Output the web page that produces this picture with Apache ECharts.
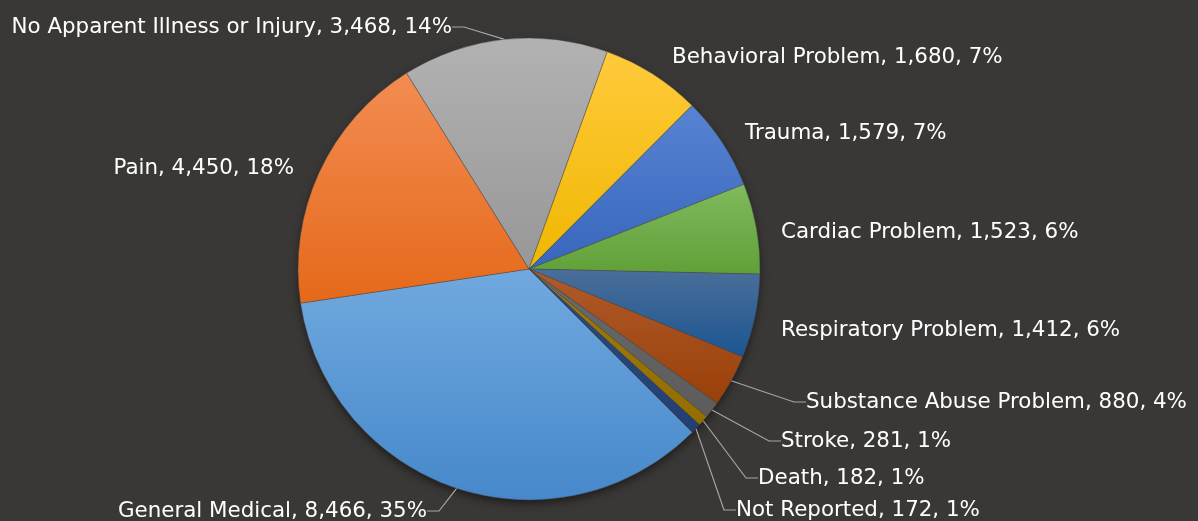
<!DOCTYPE html>
<html>
<head>
<meta charset="utf-8">
<script src="https://cdn.jsdelivr.net/npm/echarts@6/dist/echarts.min.js"></script>
<style>
  html, body { margin: 0; padding: 0; background: #3a3836; }
  #main { width: 1198px; height: 521px; }
</style>
</head>
<body>
<div id="main"></div>
<script type="text/javascript">
// data
var categories = ['General Medical', 'Pain', 'No Apparent Illness or Injury', 'Behavioral Problem',
  'Trauma', 'Cardiac Problem', 'Respiratory Problem', 'Substance Abuse Problem',
  'Stroke', 'Death', 'Not Reported'];
var counts = [8466, 4450, 3468, 1680, 1579, 1523, 1412, 880, 281, 182, 172];

// slice colours: [top, bottom] of the gradient
var sliceColors = [
  ['#70a9de', '#4688cb'],
  ['#f38c52', '#e5691a'],
  ['#b2b2b2', '#979797'],
  ['#ffca3c', '#efb700'],
  ['#5783d2', '#3766bb'],
  ['#80ba5d', '#60a038'],
  ['#4a6f99', '#1c5592'],
  ['#b05a2c', '#9a4008'],
  ['#6a6a6a', '#5c5c5c'],
  ['#a07a08', '#936e00'],
  ['#2c4a80', '#233f72']
];
// label placement [x, y(center of text), align, showLine]
var labelPos = [
  [430, 506, 'right', true],
  [297, 163, 'right', false],
  [455, 22, 'right', true],
  [669, 52, 'left', false],
  [742, 128, 'left', false],
  [778, 227, 'left', false],
  [778, 325, 'left', false],
  [803, 397, 'left', true],
  [778, 436, 'left', true],
  [755, 473, 'left', true],
  [733, 505, 'left', true]
];

var myChart = echarts.init(document.getElementById('main'));

var seriesData = [];
var shadowData = [];
for (var i = 0; i < categories.length; i++) {
  seriesData.push({
    name: categories[i],
    value: counts[i],
    itemStyle: {
      color: new echarts.graphic.LinearGradient(0, 0, 0, 1, [
        {offset: 0, color: sliceColors[i][0]},
        {offset: 1, color: sliceColors[i][1]}
      ])
    },
    labelLine: {show: labelPos[i][3]}
  });
  shadowData.push({name: categories[i], value: counts[i]});
}

var option = {
  backgroundColor: '#3a3836',
  animation: false,
  series: [
    { // soft shadow under the whole pie
      type: 'pie',
      silent: true,
      z: 1,
      center: [529, 269],
      radius: 230,
      startAngle: -45,
      data: shadowData,
      label: {show: false},
      labelLine: {show: false},
      itemStyle: {
        color: '#3a3836',
        shadowBlur: 10,
        shadowOffsetY: 4,
        shadowColor: 'rgba(0,0,0,0.55)'
      }
    },
    {
      type: 'pie',
      z: 2,
      center: [529, 269],
      radius: 231,
      startAngle: -45,
      clockwise: true,
      avoidLabelOverlap: false,
      data: seriesData,
      itemStyle: {
        borderColor: 'rgba(70,70,70,0.7)',
        borderWidth: 0.6
      },
      label: {
        show: true,
        position: 'outside',
        color: '#ffffff',
        fontFamily: 'DejaVu Sans',
        fontSize: 21.4,
        padding: [0, 3, 10, 3],
        formatter: function (p) {
          return p.name + ', ' + p.value.toLocaleString('en-US') + ', ' + Math.round(p.percent) + '%';
        }
      },
      labelLine: {
        length: 10,
        length2: 12,
        lineStyle: {color: '#a6a6a6', width: 1.2}
      },
      labelLayout: function (params) {
        var lp = labelPos[params.dataIndex];
        return {
          x: lp[0],
          y: lp[1] + 5,
          align: lp[2],
          verticalAlign: 'middle'
        };
      }
    }
  ]
};

myChart.setOption(option);
</script>
</body>
</html>
